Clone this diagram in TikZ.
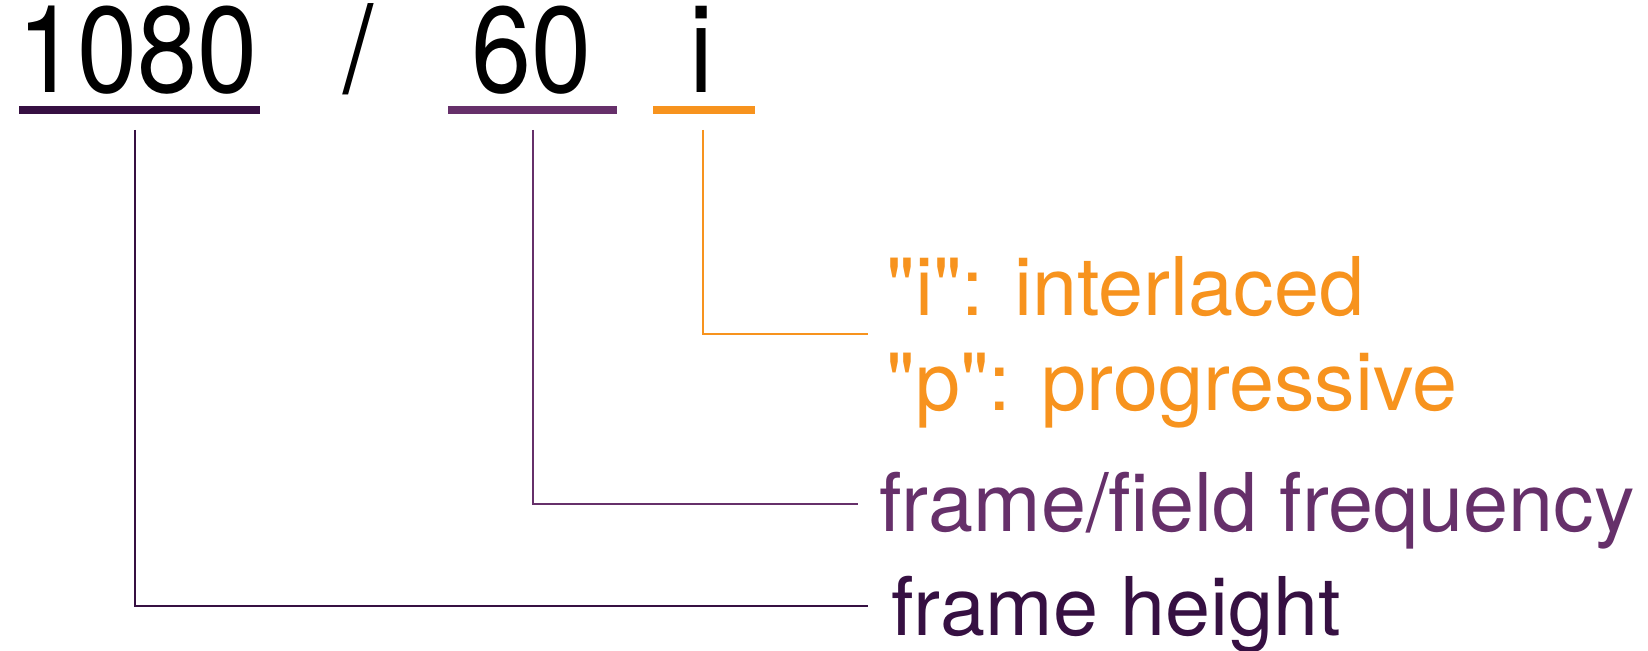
\documentclass[tikz,border=0pt]{standalone}
\usepackage{graphicx}
\usepackage{fontspec}
\setmainfont{TeX Gyre Heros}[Ligatures=TeXOff]
\definecolor{cdark}{HTML}{361042}
\definecolor{cmid}{HTML}{66306A}
\definecolor{corange}{HTML}{F7931E}
\newcommand{\tallbox}[1]{\scalebox{1}[1.13]{#1}}
\begin{document}
\begin{tikzpicture}[x=0.5pt,y=-0.5pt,
  big/.style={inner sep=0pt,anchor=base west,font=\fontsize{54pt}{60pt}\selectfont},
  lbl/.style={inner sep=0pt,anchor=base west,font=\fontsize{40.5pt}{46pt}\selectfont},
  uline/.style={line width=4pt},
  conn/.style={line width=1pt}]
\useasboundingbox (0,0) rectangle (1648,651);
% top text
\node[big] (t1080) at (17,93) {\tallbox{1080}};
\node[big] (tslash) at (343,93) {\tallbox{/}};
\node[big] (t60) at (471,93) {\tallbox{60}};
\node[big] (ti) at (689,93) {\tallbox{i}};
% underlines
\draw[uline,cdark] (19,110.5) -- (260,110.5);
\draw[uline,cmid] (448,110.5) -- (617,110.5);
\draw[uline,corange] (653,110.5) -- (755,110.5);
% labels
\node[lbl,text=corange] (li) at (886,316) {"i": interlaced};
\node[lbl,text=corange] (lp) at (886,411) {"p": progressive};
\node[lbl,text=cmid] (lf) at (879,531) {frame/field frequency};
\node[lbl,text=cdark] (lh) at (891,635) {frame height};
% connector coordinates
\coordinate (s1) at (135,130);
\coordinate (e1) at (868,606);
\coordinate (s2) at (533,130);
\coordinate (e2) at (858,504);
\coordinate (s3) at (703,130);
\coordinate (e3) at (868,334);
\draw[conn,cdark] (s1) |- (e1);
\draw[conn,cmid] (s2) |- (e2);
\draw[conn,corange] (s3) |- (e3);
\end{tikzpicture}
\end{document}
